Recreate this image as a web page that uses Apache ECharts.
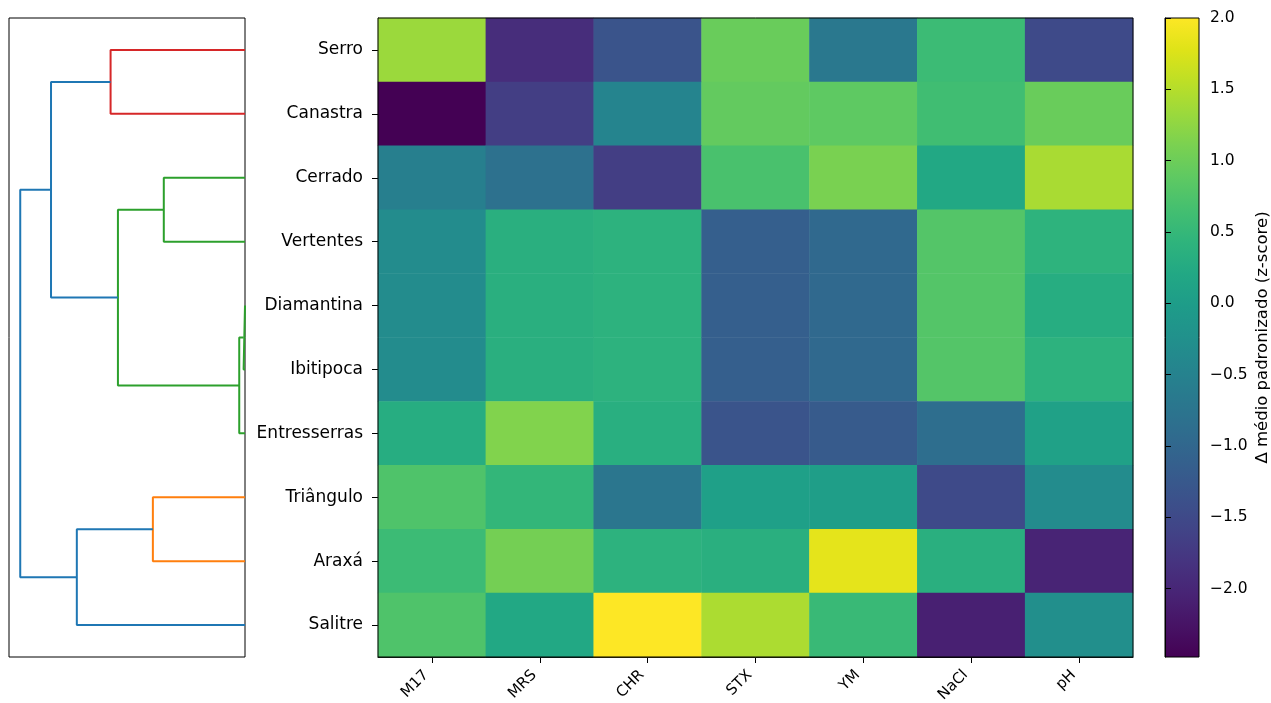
<!DOCTYPE html>
<html>
<head>
<meta charset="utf-8">
<title>Δ médio padronizado por região</title>
<script src="https://cdn.jsdelivr.net/npm/echarts@6/dist/echarts.min.js"></script>
<style>
  html, body { margin: 0; padding: 0; background: #fff; }
  #chart { width: 1271px; height: 703px; }
</style>
</head>
<body>
<div id="chart"></div>
<script>
// ---- data -------------------------------------------------------------
const regions = ['Serro', 'Canastra', 'Cerrado', 'Vertentes', 'Diamantina',
                 'Ibitipoca', 'Entresserras', 'Triângulo', 'Araxá', 'Salitre'];
const media = ['M17', 'MRS', 'CHR', 'STX', 'YM', 'NaCl', 'pH'];

// standardized mean delta (z-score), one array per region, in media order
const zSerro        = [ 1.33, -1.90, -1.32,  0.97, -0.69,  0.57, -1.49];
const zCanastra     = [-2.48, -1.67, -0.46,  0.92,  0.88,  0.61,  0.97];
const zCerrado      = [-0.55, -0.82, -1.67,  0.70,  1.10,  0.21,  1.42];
const zVertentes    = [-0.33,  0.34,  0.39, -1.14, -0.96,  0.79,  0.41];
const zDiamantina   = [-0.33,  0.34,  0.39, -1.14, -0.96,  0.79,  0.30];
const zIbitipoca    = [-0.33,  0.34,  0.39, -1.14, -0.96,  0.79,  0.39];
const zEntresserras = [ 0.30,  1.15,  0.33, -1.32, -1.20, -0.87,  0.07];
const zTriangulo    = [ 0.75,  0.48, -0.73,  0.05,  0.03, -1.49, -0.33];
const zAraxa        = [ 0.57,  1.06,  0.39,  0.34,  1.82,  0.34, -2.03];
const zSalitre      = [ 0.75,  0.21,  2.00,  1.44,  0.54, -2.08, -0.28];
const zRows = [zSerro, zCanastra, zCerrado, zVertentes, zDiamantina,
               zIbitipoca, zEntresserras, zTriangulo, zAraxa, zSalitre];

// colour scale limits and colorbar ticks
const zMin = -2.48;
const zMax = 2.0;
const colorbarTicks = [-2.0, -1.5, -1.0, -0.5, 0.0, 0.5, 1.0, 1.5, 2.0];

// hierarchical clustering merges (scipy style): children are leaf indices
// (0..9, in the order of `regions`) or earlier merges (10, 11, ...)
const mergeLeft   = [0, 2, 4, 12, 11, 10, 7, 16, 15];
const mergeRight  = [1, 3, 5,  6, 13, 14, 8,  9, 17];
const mergeHeight = [6.77, 4.09, 0.07, 0.29, 6.40, 9.77, 4.64, 8.47, 11.32];

// ---- styling ----------------------------------------------------------
const C0 = '#1f77b4', C1 = '#ff7f0e', C2 = '#2ca02c', C3 = '#d62728';
const linkColors = [C3, C2, C2, C2, C2, C0, C1, C0, C0];

const viridis = ['#440154', '#471365', '#482475', '#463480', '#414487',
                 '#3b528b', '#355f8d', '#2f6c8e', '#2a788e', '#25848e',
                 '#21918c', '#1e9c89', '#22a884', '#2fb47c', '#44bf70',
                 '#5ec962', '#7ad151', '#9bd93c', '#bddf26', '#dfe318',
                 '#fde725'];

const FONT = 'DejaVu Sans';
const minusSign = v => v.toFixed(1).replace('-', '\u2212');

// ---- heatmap cells ----------------------------------------------------
const cells = [];
zRows.forEach((row, r) => row.forEach((v, c) => cells.push([c, r, v])));

// ---- dendrogram links (U shapes, distance on x, leaf position on y) ---
const nLeaves = regions.length;
const nodePos = regions.map((_, i) => i);
const nodeHeight = regions.map(() => 0);
const linkSeries = [];
mergeHeight.forEach((h, k) => {
  const a = mergeLeft[k], b = mergeRight[k];
  const ya = nodePos[a], yb = nodePos[b];
  linkSeries.push({
    type: 'line',
    xAxisIndex: 1,
    yAxisIndex: 1,
    data: [[nodeHeight[a], ya], [h, ya], [h, yb], [nodeHeight[b], yb]],
    symbol: 'none',
    silent: true,
    animation: false,
    lineStyle: { color: linkColors[k], width: 2 },
    z: 3
  });
  nodePos[nLeaves + k] = (ya + yb) / 2;
  nodeHeight[nLeaves + k] = h;
});
const rootHeight = Math.max(...mergeHeight);

// ---- chart ------------------------------------------------------------
const chart = echarts.init(document.getElementById('chart'), null, { renderer: 'canvas' });

const colorbarGradient = {
  type: 'linear', x: 0, y: 1, x2: 0, y2: 0,
  colorStops: viridis.map((c, i) => ({ offset: i / (viridis.length - 1), color: c }))
};

chart.setOption({
  backgroundColor: '#ffffff',
  animation: false,
  textStyle: { fontFamily: FONT },
  grid: [
    // heatmap
    { left: 378, top: 18, width: 755, height: 639, show: true, z: 5,
      outerBoundsMode: 'none', containLabel: false,
      backgroundColor: 'transparent', borderColor: '#000', borderWidth: 1 },
    // dendrogram
    { left: 9, top: 18, width: 236, height: 639, show: true,
      outerBoundsMode: 'none', containLabel: false,
      backgroundColor: 'transparent', borderColor: '#000', borderWidth: 1 },
    // colorbar
    { left: 1165, top: 18, width: 34, height: 639, show: true,
      outerBoundsMode: 'none', containLabel: false,
      backgroundColor: colorbarGradient, borderColor: '#000', borderWidth: 1 }
  ],
  xAxis: [
    {
      gridIndex: 0, type: 'category', data: media, position: 'bottom',
      axisLine: { show: true, lineStyle: { color: '#000', width: 1 } },
      axisTick: { show: true, alignWithLabel: true, length: 6, lineStyle: { color: '#000' } },
      axisLabel: { rotate: 45, margin: 10, padding: [0, 8, 0, 0], fontSize: 15,
                   color: '#000', fontFamily: FONT },
      splitLine: { show: false }
    },
    {
      gridIndex: 1, type: 'value', min: 0, max: rootHeight * 1.05, inverse: true,
      show: false
    },
    {
      gridIndex: 2, type: 'value', min: 0, max: 1, show: false
    }
  ],
  yAxis: [
    {
      gridIndex: 0, type: 'category', data: regions, inverse: true,
      axisLine: { show: true, lineStyle: { color: '#000', width: 1 } },
      axisTick: { show: true, alignWithLabel: true, length: 6, lineStyle: { color: '#000' } },
      axisLabel: { margin: 15, fontSize: 17, color: '#000', fontFamily: FONT },
      splitLine: { show: false }
    },
    {
      gridIndex: 1, type: 'value', min: -0.5, max: nLeaves - 0.5, inverse: true,
      show: false
    },
    {
      gridIndex: 2, type: 'value', min: zMin, max: zMax, position: 'right',
      name: 'Δ médio padronizado (z-score)',
      nameLocation: 'middle', nameRotate: 90, nameGap: 55,
      nameTextStyle: { fontSize: 16.5, color: '#000', fontFamily: FONT },
      axisLine: { show: true, lineStyle: { color: '#000', width: 1 } },
      axisTick: { show: true, length: 6, customValues: colorbarTicks, lineStyle: { color: '#000' } },
      axisLabel: { show: true, margin: 11, fontSize: 15.5, color: '#000', fontFamily: FONT,
                   customValues: colorbarTicks, formatter: minusSign },
      splitLine: { show: false }
    }
  ],
  visualMap: {
    type: 'continuous', show: false, min: zMin, max: zMax,
    seriesIndex: 0, dimension: 2,
    inRange: { color: viridis }
  },
  series: [
    {
      type: 'heatmap', xAxisIndex: 0, yAxisIndex: 0, data: cells,
      silent: true, progressive: 0,
      itemStyle: { borderWidth: 0 },
      emphasis: { disabled: true }
    }
  ].concat(linkSeries)
});
</script>
</body>
</html>
